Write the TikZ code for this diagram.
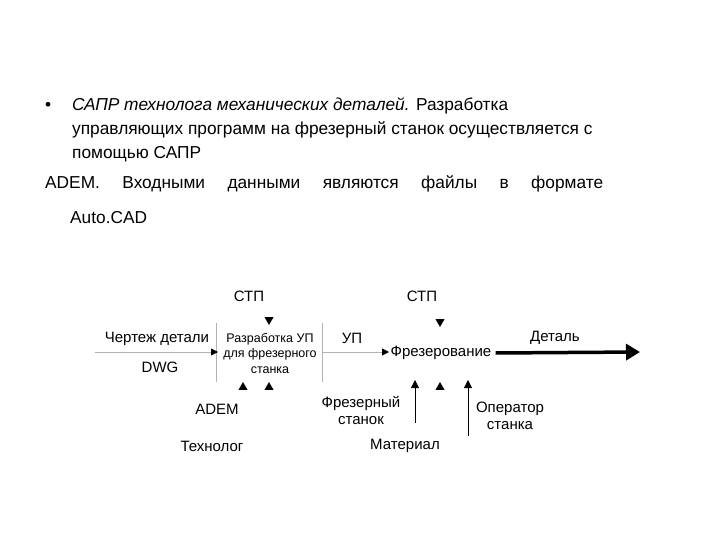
\documentclass[tikz,border=0pt]{standalone}
\usepackage{fontspec}
\setmainfont{Liberation Sans}
\usetikzlibrary{arrows.meta}
\begin{document}
\begin{tikzpicture}[x=1pt,y=-1pt,
  tx/.style={font=\fontsize{15}{17}\selectfont,inner sep=0pt,align=center},
  big/.style={font=\fontsize{17.3}{20}\selectfont,inner sep=0pt,anchor=base west},
  gl/.style={draw=gray!60,line width=0.8pt},
  ga/.style={gl,-{Triangle[length=7pt,width=7pt,fill=black,color=black]}},
  ba/.style={draw=black,line width=0.8pt,-{Triangle[length=8pt,width=8pt]}},
]
\useasboundingbox (0,0) rectangle (720,540);
\node[big] (b) at (45,111) {•};
\node[big] (l1) at (72,111) {\textit{САПР технолога механических деталей.} Разработка};
\node[big] (l2) at (72,135) {управляющих программ на фрезерный станок осуществляется с};
\node[big] (l3) at (72,159) {помощью САПР};
\node[big] (l4) at (45,189) {\makebox[558pt][s]{ADEM. Входными данными являются файлы в формате}};
\node[big] (l5) at (70,223) {Auto.CAD};

\node[tx] (cd) at (157,339) {Чертеж детали};
\node[tx] (dwg) at (160,367) {DWG};
\node[tx] (s1) at (249,296) {СТП};
\node[tx] (s2) at (422,296) {СТП};
\node[tx,font=\fontsize{12.5}{15.5}\selectfont] (rup) at (270,353) {Разработка УП\\для фрезерного\\станка};
\node[tx] (up) at (352,338) {УП};
\node[tx] (fr) at (441,353) {Фрезерование};
\node[tx] (det) at (555,338) {Деталь};
\node[tx] (adem) at (217,409) {ADEM};
\node[tx] (tech) at (212,446) {Технолог};
\node[tx] (fst) at (361,411) {Фрезерный\\станок};
\node[tx] (op) at (510,416) {Оператор\\станка};
\node[tx] (mat) at (405,446) {Материал};

\coordinate (v1a) at (216,323); \coordinate (v1b) at (216,382);
\coordinate (v2a) at (322,323); \coordinate (v2b) at (322,382);
\draw[gl] (v1a) -- (v1b);
\draw[gl] (v2a) -- (v2b);
\coordinate (h1a) at (95,352); \coordinate (h1b) at (218,352);
\draw[ga] (h1a) -- (h1b);
\coordinate (h2b) at (389,352);
\draw[ga] (v2a|-h1a) -- (h2b);
\draw[line width=3.5pt,-{Triangle[length=14pt,width=16pt]}] (fr.east) ++(4,0) -- (640,352);
% small triangles
\foreach \x/\y/\r in {269/320/90, 440/322/90, 243/387/-90, 269/387/-90, 440/387/-90}{
  \fill (\x,\y) ++(\r:5) -- ++(\r+150:9) -- ++(\r-90:9) -- cycle;
}
\coordinate (m1) at (415,423); \coordinate (m1t) at (415,380);
\coordinate (o1) at (468,436); \coordinate (o1t) at (468,380);
\draw[ba] (m1) -- (m1t);
\draw[ba] (o1) -- (o1t);
\end{tikzpicture}
\end{document}
